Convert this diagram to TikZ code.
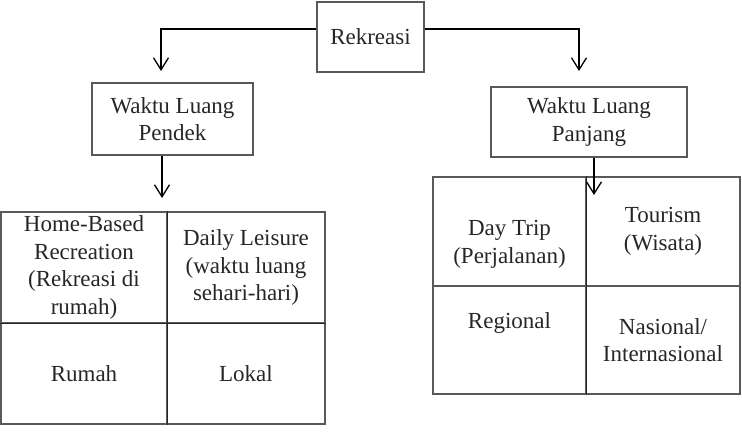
\documentclass[tikz,border=0pt]{standalone}
\usepackage{fontspec}
\setmainfont{Liberation Serif}
\usetikzlibrary{positioning, arrows.meta}

\begin{document}
\begin{tikzpicture}[x=1pt, y=1pt,
    box/.style={draw=black!65, line width=1.1pt, align=center, inner sep=0pt,
      text=black!85, font=\fontsize{23}{27.5}\selectfont},
    divider/.style={draw=black!85, line width=0.9pt},
    link/.style={line width=1.3pt,
      -{Straight Barb[length=12pt, width=15pt, line width=1.3pt]}}]
    \useasboundingbox (0,0) rectangle (742,434);

    % Rekreasi
    \node[box, minimum width=107pt, minimum height=70pt] (rek) at (370.5,397) {Rekreasi};

    % Waktu luang
    \node[box, minimum width=161pt, minimum height=72pt] (pen) at (172.5,315) {Waktu Luang\\Pendek};
    \node[box, minimum width=196pt, minimum height=70pt] (pan) at (589,312) {Waktu Luang\\Panjang};

    % tabel kiri
    \node[box, minimum width=166pt, minimum height=111pt] (home) at (84,166.5)
      {Home-Based\\Recreation\\(Rekreasi di\\rumah)};
    \node[box, minimum width=158pt, minimum height=111pt] (daily) at (246,166.5)
      {Daily Leisure\\(waktu luang\\sehari-hari)};
    \node[box, minimum width=166pt, minimum height=101pt] (rumah) at (84,60.5) {Rumah};
    \node[box, minimum width=158pt, minimum height=101pt] (lokal) at (246,60.5) {Lokal};
    \draw[divider] (home.north east) -- (rumah.south east);
    \draw[divider] (home.south west) -- (daily.south east);

    % tabel kanan
    \node[box, minimum width=153pt, minimum height=109pt] (trip) at (509.5,202.5) {};
    \node[box, draw=none] (tripT) at ([yshift=-13pt]trip.center) {Day Trip\\(Perjalanan)};
    \node[box, minimum width=154pt, minimum height=109pt] (tour) at (663,202.5)
      {Tourism\\(Wisata)};
    \node[box, minimum width=153pt, minimum height=108pt] (reg) at (509.5,94) {};
    \node[box, draw=none] (regT) at ([yshift=17pt]reg.center) {Regional};
    \node[box, minimum width=154pt, minimum height=108pt] (nas) at (663,94)
      {Nasional/\\Internasional};
    \draw[divider] (trip.north east) -- (reg.south east);

    % ujung panah
    \coordinate (tipA) at (161,363);
    \coordinate (tipB) at (579,363);
    \coordinate (tipL) at (162,236);
    \coordinate (tipR) at (594,239);

    % panah
    \draw[link] ([yshift=8pt]rek.west) -| (tipA);
    \draw[link] ([yshift=8pt]rek.east) -| (tipB);
    \draw[link] (pen.south -| tipL) -- (tipL);
    \draw[link] (pan.south -| tipR) -- (tipR);
  \end{tikzpicture}
\end{document}
